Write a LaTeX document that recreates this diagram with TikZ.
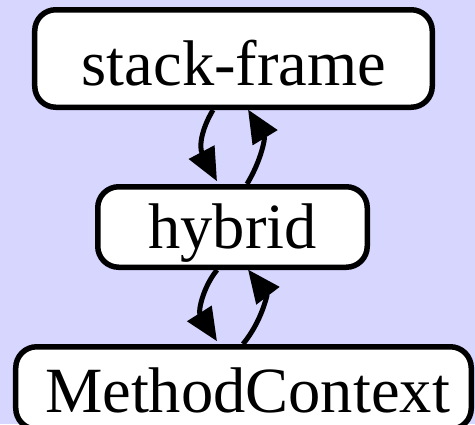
\documentclass[tikz,border=0pt]{standalone}
\usepackage{fontspec}
\setmainfont{Liberation Serif}
\usetikzlibrary{arrows.meta}
\definecolor{bg}{RGB}{214,214,255}
\tikzset{
  box/.style={draw=black, line width=5.5bp, fill=white, rounded corners=21bp, inner sep=0pt},
  lbl/.style={inner sep=0pt, anchor=base, font=\fontsize{64.5bp}{70bp}\selectfont},
  conn/.style={line width=5bp, -{Triangle[length=33bp,width=28bp]}},
}
\begin{document}
\begin{tikzpicture}[x=1bp,y=-1bp]
  \fill[bg] (0,0) rectangle (475,424);
  \useasboundingbox (0,0) rectangle (475,424);
  % boxes
  \node[box, minimum width=397.5bp, minimum height=97.5bp] (top) at (233.5,58.5) {};
  \node[box, minimum width=269.5bp, minimum height=80.5bp] (mid) at (232.5,227) {};
  \node[box, minimum width=455.5bp, minimum height=82.5bp] (bot) at (243.5,388) {};
  % labels
  \node[lbl] (toplbl) at (234,85) {stack-frame};
  \node[lbl] (midlbl) at (232.5,248) {hybrid};
  \node[lbl] (botlbl) at (247.5,412) {MethodContext};
  % connectors
  \draw[conn] ([xshift=-20.5bp]top.south) .. controls +(-12,20) and +(-18,-34) .. ([xshift=-15.5bp,yshift=2.75bp]mid.north);
  \draw[conn] ([xshift=14.5bp]mid.north) .. controls +(15,-25) and +(17,28) .. ([xshift=14.5bp,yshift=0.5bp]top.south);
  \draw[conn] ([xshift=-15.5bp]mid.south) .. controls +(-14,17) and +(-19,-30) .. ([xshift=-26.5bp,yshift=2.75bp]bot.north);
  \draw[conn] ([xshift=-0.5bp]bot.north) .. controls +(19,-23) and +(19,25) .. ([xshift=15.5bp,yshift=0.5bp]mid.south);
\end{tikzpicture}
\end{document}
